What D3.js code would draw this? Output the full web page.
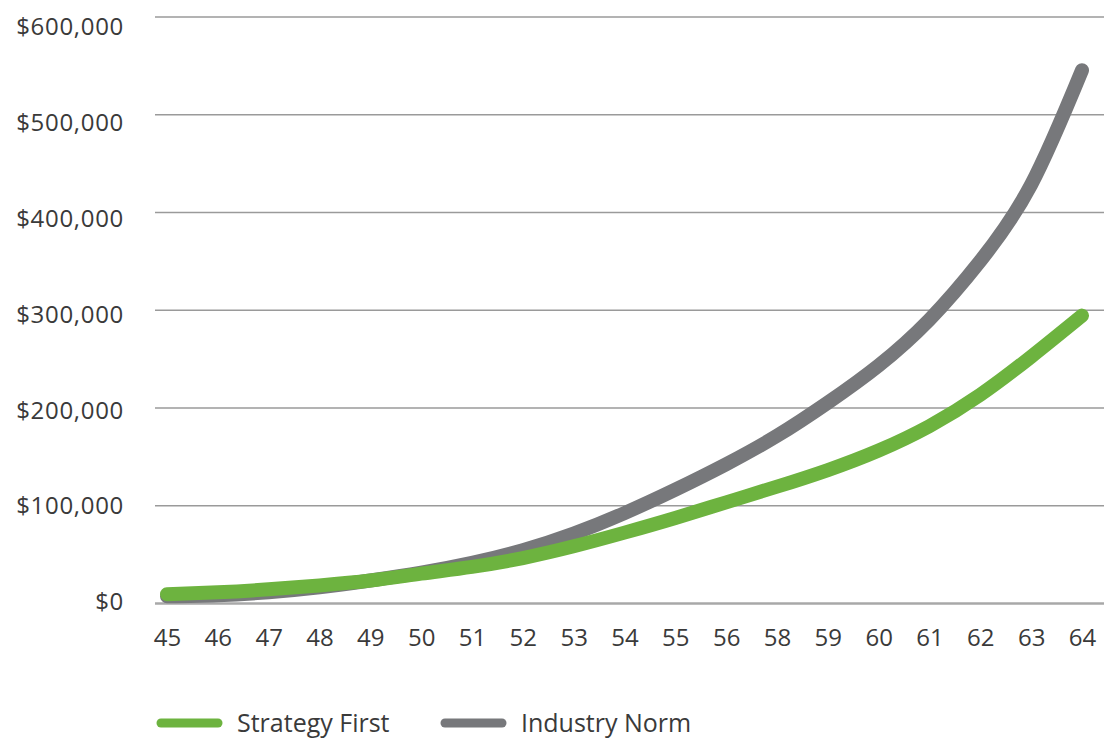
<!DOCTYPE html>
<html>
<head>
<meta charset="utf-8">
<script src="https://cdn.jsdelivr.net/npm/d3@7"></script>
<style>
  html, body { margin: 0; padding: 0; background: #fff; }
  svg { display: block; font-family: 'Open Sans', sans-serif; }
</style>
</head>
<body>
<svg id="chart" width="1104" height="740"></svg>
<script>
// ages along the bottom (57 is skipped in the original)
const ages = ['45', '46', '47', '48', '49', '50', '51', '52', '53', '54', '55', '56', '58', '59', '60', '61', '62', '63', '64'];

// balances in dollars
const strategyFirst = [9000, 11000, 14000, 18000, 23000, 30000, 37000, 46000, 58000, 72000, 87000, 103000, 119000, 136000, 156000, 181000, 213000, 252000, 294000];
const industryNorm = [7000, 8000, 11000, 16000, 23000, 31000, 41000, 54000, 71000, 92000, 116000, 142000, 171000, 205000, 243000, 290000, 350000, 428000, 545000];

const yTicks = [0, 100000, 200000, 300000, 400000, 500000, 600000];

const series = [
  { name: 'Industry Norm', values: industryNorm, color: '#77787b' },
  { name: 'Strategy First', values: strategyFirst, color: '#6db33f' },
];

const svg = d3.select('#chart');
const width = 1104;
const textColor = '#3a3a3a';

const x = d3.scalePoint().domain(ages).range([167, 1082]);
const y = d3.scaleLinear().domain([0, 600000]).range([603, 16.5]);
// the value labels sit on a slightly tighter spacing than the grid
const yLabel = y.copy().range([602, 27]);

// Gridlines
const grid = svg.append('g')
  .attr('class', 'grid')
  .attr('transform', 'translate(155, 0)')
  .call(d3.axisLeft(y).tickValues(yTicks).tickSize(-(width - 155)).tickFormat(''));
grid.select('.domain').remove();
grid.selectAll('.tick line')
  .attr('stroke', (d) => (d === 0 ? '#a8a8a8' : '#9a9a9a'))
  .attr('stroke-width', (d) => (d === 0 ? 2.5 : 1.5));

// Y labels
const yAxis = svg.append('g')
  .attr('class', 'axis y')
  .attr('transform', 'translate(124, 0)')
  .call(d3.axisLeft(yLabel).tickValues(yTicks).tickSize(0).tickPadding(0)
    .tickFormat((d) => '$' + d3.format(',')(d)));
yAxis.select('.domain').remove();
yAxis.selectAll('text')
  .attr('font-size', 24)
  .attr('letter-spacing', 0.7)
  .attr('font-family', "'Open Sans', sans-serif")
  .attr('fill', textColor);

// X labels
const xAxis = svg.append('g')
  .attr('class', 'axis x')
  .attr('transform', 'translate(0, 603)')
  .call(d3.axisBottom(x).tickSize(0).tickPadding(26));
xAxis.select('.domain').remove();
xAxis.selectAll('text')
  .attr('font-size', 24)
  .attr('font-family', "'Open Sans', sans-serif")
  .attr('fill', textColor);

// Lines
const line = d3.line()
  .x((d, i) => x(ages[i]))
  .y((d) => y(d))
  .curve(d3.curveNatural);

svg.append('g')
  .attr('class', 'lines')
  .selectAll('path')
  .data(series)
  .join('path')
  .attr('d', (d) => line(d.values))
  .attr('fill', 'none')
  .attr('stroke', (d) => d.color)
  .attr('stroke-width', 14)
  .attr('stroke-linecap', 'round')
  .attr('stroke-linejoin', 'round');

// Legend
const legendItems = [
  { name: 'Strategy First', color: '#6db33f', x: 157 },
  { name: 'Industry Norm', color: '#77787b', x: 441 },
];

const legend = svg.append('g')
  .attr('class', 'legend')
  .attr('transform', 'translate(0, 723)');

const item = legend.selectAll('g')
  .data(legendItems)
  .join('g')
  .attr('transform', (d) => `translate(${d.x}, 0)`);

item.append('line')
  .attr('x1', 4)
  .attr('x2', 61)
  .attr('stroke', (d) => d.color)
  .attr('stroke-width', 9)
  .attr('stroke-linecap', 'round');

item.append('text')
  .attr('x', 80)
  .attr('y', 9)
  .attr('font-size', 25)
  .attr('fill', textColor)
  .text((d) => d.name);
</script>
</body>
</html>
